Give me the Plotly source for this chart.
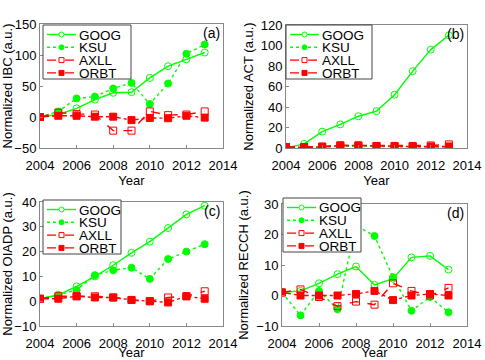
import plotly.graph_objects as go
from plotly.subplots import make_subplots

# data (normalized, a.u.)
years = [2004, 2005, 2006, 2007, 2008, 2009, 2010, 2011, 2012, 2013]
year_ticks = [2004, 2006, 2008, 2010, 2012, 2014]

ibc_goog = [0, 4, 14, 28, 39, 40, 63, 82, 93, 104]
ibc_ksu = [0, 9, 30, 33, 46, 55, 21, 54, 102, 117]
ibc_axll = [0, 7, 5, 4, -22, -22, 9, 3, 4, 9]
ibc_orbt = [0, 2, 2, 0.5, 0.5, -5, -1.5, -2, 2, -1]

act_goog = [0, 4, 16, 23, 31, 36, 52, 75, 96, 110]
act_ksu = [1, 0.5, 1, 1.5, 2, 1.5, 1, 1, 1, 1]
act_axll = [1, 1, 1.5, 2.5, 2.5, 2, 2, 2, 2.5, 3.5]
act_orbt = [1, 0.5, 1, 2.5, 2.5, 2, 1.5, 1.5, 1.5, 1.5]

oiadp_goog = [1, 2.5, 6, 10, 14.5, 19.5, 24, 29.5, 35, 38.5]
oiadp_ksu = [1, 2.5, 4.5, 10.5, 12.5, 13.5, 9, 17, 20, 23]
oiadp_axll = [1, 2, 2, 2, 1.5, 0.5, 0, 1.5, 2, 4]
oiadp_orbt = [1, 1, 2, 1.5, 1.5, 0.5, 0, -0.5, 2, 1]

recch_goog = [1, 1.5, 4, 7, 9.5, 3.5, 5.5, 12.5, 13, 8.5]
recch_ksu = [1, -6.5, 1.5, -4.5, 23, 19.5, 6, -5, -0.5, -5.5]
recch_axll = [1, 2, -0.5, -3.5, -2, -3, 4, 1.5, 0, 2.5]
recch_orbt = [1, 0, 0, 0, 0.5, 1.5, -1.5, 0, 0.5, 0]

companies = ["GOOG", "KSU", "AXLL", "ORBT"]
W, H = 485, 360
GREEN = "#00ff00"
RED = "#ff0000"
FONT = "Arial, Liberation Sans, sans-serif"

styles = {
    "GOOG": dict(color=GREEN, dash="solid", symbol="circle-open", filled=False, shape="circle"),
    "KSU": dict(color=GREEN, dash="dot", symbol="circle", filled=True, shape="circle"),
    "AXLL": dict(color=RED, dash="dash", symbol="square-open", filled=False, shape="rect"),
    "ORBT": dict(color=RED, dash="dashdot", symbol="square", filled=True, shape="rect"),
}

panels = [
    dict(label="(a)", ytitle="Normalized IBC (a.u.)", yrange=[-50, 150], dtick=50,
         data=[ibc_goog, ibc_ksu, ibc_axll, ibc_orbt],
         box=(40, 24, 223, 148), leg=(43, 25, 88)),
    dict(label="(b)", ytitle="Normalized ACT (a.u.)", yrange=[0, 120], dtick=20,
         data=[act_goog, act_ksu, act_axll, act_orbt],
         box=(286, 25, 467, 148), leg=(286, 25, 86)),
    dict(label="(c)", ytitle="Normalized OIADP (a.u.)", yrange=[-10, 40], dtick=10,
         data=[oiadp_goog, oiadp_ksu, oiadp_axll, oiadp_orbt],
         box=(40, 202, 223, 326), leg=(43, 200, 78)),
    dict(label="(d)", ytitle="Normalized RECCH (a.u.)", yrange=[-10, 30], dtick=10,
         data=[recch_goog, recch_ksu, recch_axll, recch_orbt],
         box=(282, 204, 467, 326), leg=(283, 198, 78)),
]


def pxx(x):
    return x / W


def pxy(y):
    return 1 - y / H


fig = make_subplots(rows=2, cols=2)
shapes = []
annotations = []

for i, p in enumerate(panels):
    row, col = i // 2 + 1, i % 2 + 1
    for name, vals in zip(companies, p["data"]):
        s = styles[name]
        fig.add_trace(go.Scatter(
            x=years, y=vals, name=name, mode="lines+markers", showlegend=False,
            line=dict(color=s["color"], width=1.4, dash=s["dash"]),
            marker=dict(symbol=s["symbol"], size=7, color=s["color"],
                        line=dict(color=s["color"], width=1)),
        ), row=row, col=col)

    L, T, R, B = p["box"]
    suffix = "" if i == 0 else str(i + 1)
    fig.layout["xaxis" + suffix].update(domain=[pxx(L), pxx(R)])
    fig.layout["yaxis" + suffix].update(domain=[pxy(B), pxy(T)])
    fig.update_xaxes(range=[2004, 2014], tickvals=year_ticks, ticks="inside", ticklen=3,
                     title=dict(text="Year", standoff=3, font=dict(size=13)),
                     ticklabelstandoff=5, automargin=False, row=row, col=col)
    fig.update_yaxes(range=p["yrange"], dtick=p["dtick"], ticks="inside", ticklen=3,
                     title=dict(text=p["ytitle"], standoff=4, font=dict(size=13)),
                     automargin=False, row=row, col=col)

    # panel letter
    annotations.append(dict(text=p["label"], xref="paper", yref="paper",
                            x=pxx(R - 1), y=pxy(T + 9), xanchor="right", yanchor="middle",
                            showarrow=False, font=dict(size=14, color="black")))

    # legend box drawn by hand so it stays as compact as the original
    lx, ly, lw = p["leg"]
    lh = 54
    shapes.append(dict(type="rect", xref="paper", yref="paper",
                       x0=pxx(lx), x1=pxx(lx + lw), y0=pxy(ly + lh), y1=pxy(ly),
                       line=dict(color="#444", width=1), fillcolor="white", layer="above"))
    for k, name in enumerate(companies):
        s = styles[name]
        ey = ly + 9.5 + 12.8 * k
        shapes.append(dict(type="line", xref="paper", yref="paper",
                           x0=pxx(lx + 4), x1=pxx(lx + 33), y0=pxy(ey), y1=pxy(ey),
                           line=dict(color=s["color"], width=1.4, dash=s["dash"]), layer="above"))
        shapes.append(dict(type=s["shape"], xref="paper", yref="paper",
                           xsizemode="pixel", ysizemode="pixel",
                           xanchor=pxx(lx + 18.5), yanchor=pxy(ey),
                           x0=-2.5, x1=2.5, y0=-2.5, y1=2.5,
                           line=dict(color=s["color"], width=1),
                           fillcolor=s["color"] if s["filled"] else "white", layer="above"))
        annotations.append(dict(text=name, xref="paper", yref="paper",
                                x=pxx(lx + 34), y=pxy(ey), xanchor="left", yanchor="middle",
                                height=12, valign="middle",
                                showarrow=False, font=dict(size=13.5, color="black")))

fig.update_xaxes(showline=True, mirror=True, linecolor="#888", linewidth=1,
                 tickcolor="#888", showgrid=False, zeroline=False,
                 tickfont=dict(size=13, color="black"))
fig.update_yaxes(showline=True, mirror=True, linecolor="#888", linewidth=1,
                 tickcolor="#888", showgrid=False, zeroline=False,
                 tickfont=dict(size=13, color="black"))

fig.update_layout(
    width=W, height=H,
    margin=dict(l=0, r=0, t=0, b=0),
    paper_bgcolor="white", plot_bgcolor="white",
    font=dict(family=FONT, color="black"),
    shapes=shapes, annotations=annotations,
    showlegend=False,
)

# drop the browser's default page margin so the figure sits at the window corner
fig.write_html("out.html", config={"displayModeBar": False},
               post_script="document.body.style.margin='0';document.body.style.overflow='hidden';")
